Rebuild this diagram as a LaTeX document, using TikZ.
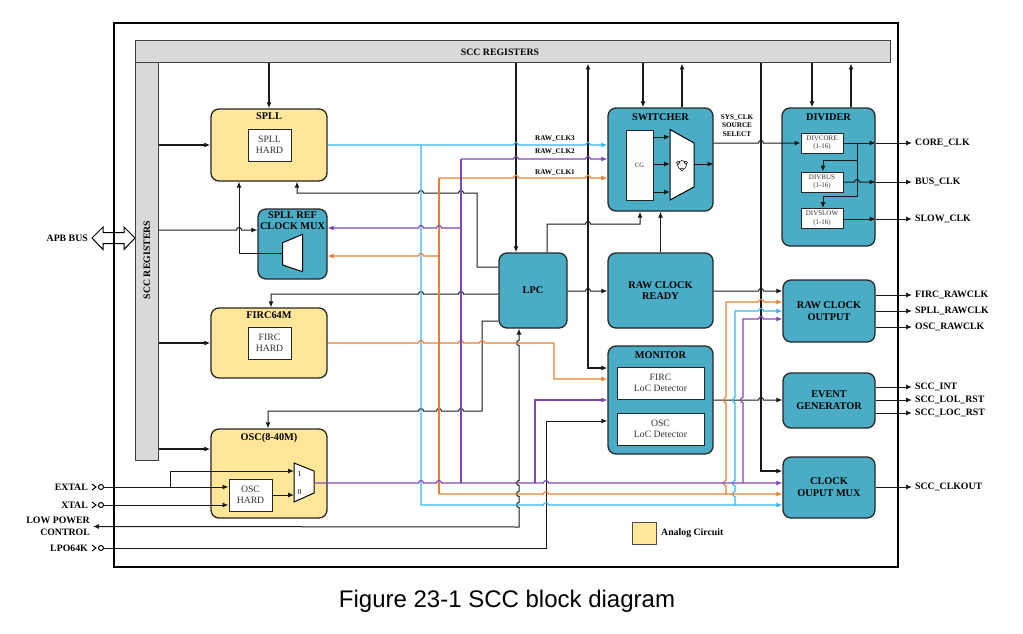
\documentclass[tikz,border=0pt]{standalone}
\usepackage{fontspec}
\setmainfont{Liberation Serif}
\newfontfamily\capfont{Liberation Sans}
\usetikzlibrary{arrows.meta}

\definecolor{tealblk}{HTML}{4BACC6}
\definecolor{analog}{HTML}{FFE699}
\definecolor{regfill}{HTML}{D9D9D9}
\definecolor{spllc}{HTML}{33B6EF}
\definecolor{oscc}{HTML}{7E46B7}
\definecolor{fircc}{HTML}{ED7D31}

\tikzset{
  box/.style 2 args={minimum width=#1pt, minimum height=#2pt, inner sep=0pt},
  blk/.style={draw=black!85, line width=1.3pt, rounded corners=8pt, fill=tealblk},
  blkt/.style={blk, font=\fontsize{10.3}{11.8}\selectfont\bfseries, align=center},
  ana/.style={blk, fill=analog},
  hard/.style={draw=black!85, line width=1pt, fill=white, text=black!80,
    font=\fontsize{9.7}{11.3}\selectfont, align=center},
  ttl/.style={anchor=north, inner sep=0pt, align=center,
    font=\fontsize{10.3}{10.8}\selectfont\bfseries},
  lbl/.style={inner sep=3pt, font=\fontsize{9.8}{12}\selectfont\bfseries},
  tiny/.style={inner sep=0pt, align=center, font=\fontsize{7.2}{8.4}\selectfont\bfseries},
  regbar/.style={draw=black!75, line width=1pt, fill=regfill},
  sig/.style={line width=1pt, draw=black!90},
  reg/.style={line width=1.4pt, draw=black!90},
  spl/.style={line width=1.15pt, draw=spllc},
  frc/.style={line width=1.15pt, draw=fircc},
  osl/.style={line width=1.15pt, draw=oscc},
  hr/.style 2 args={insert path={-- (#1-2.5,#2) arc[start angle=180,end angle=360,radius=2.5]}},
  hl/.style 2 args={insert path={-- (#1+2.5,#2) arc[start angle=0,end angle=-180,radius=2.5]}},
  hu/.style 2 args={insert path={-- (#1,#2+2.5) arc[start angle=90,end angle=270,radius=2.5]}}
}

\begin{document}
\begin{tikzpicture}[x=1pt, y=-1pt, >={Latex[length=6pt,width=5pt]}]
\useasboundingbox (0,0) rectangle (1023,634);

\draw[line width=1pt, fill=white] (92,238) -- (103,227) -- (103,232.5) -- (124,232.5) -- (124,227) -- (135,238)
  -- (124,249.5) -- (124,243.5) -- (103,243.5) -- (103,249.5) -- cycle;
\draw[line width=1.4pt] (114,23) rectangle (898,567);

\node[regbar, box={755}{22}] (regh) at (512.5,52) {};
\node[regbar, box={23}{397}] (regv) at (146.5,261.5) {};
\node[lbl, inner sep=0pt] (regh-t) at (500,52) {SCC REGISTERS};
\node[lbl, inner sep=0pt, rotate=90] (regv-t) at (147,260) {SCC REGISTERS};

\node[ana, box={116}{72}] (spll) at (269,145) {};
\node[ttl] (spll-t) at ([yshift=-4.5pt]spll.north) {SPLL};
\node[hard, box={43}{32}] (spll-h) at (269.5,145) {SPLL\\HARD};

\node[blk, box={69}{70}] (rmux) at (292.5,244) {};
\node[ttl] (rmux-t) at ([yshift=-3.5pt]rmux.north) {SPLL REF\\CLOCK MUX};
\draw[line width=1pt, fill=white] (282.7,242.7) -- (302.7,234.3) -- (302.7,271.7) -- (282.7,265) -- cycle;
\coordinate (rmux-o) at (282.7,253.3);

\node[ana, box={116}{70}] (firc) at (269,343) {};
\node[ttl] (firc-t) at ([yshift=-4pt]firc.north) {FIRC64M};
\node[hard, box={43}{32}] (firc-h) at (269.5,343) {FIRC\\HARD};

\node[ana, box={116}{89}] (osc) at (269,473.5) {};
\node[ttl] (osc-t) at ([yshift=-4.5pt]osc.north) {OSC(8-40M)};
\node[hard, box={43}{32}] (osc-h) at (250.5,495) {OSC\\HARD};
\draw[line width=1pt, fill=white] (294,463) -- (314,471) -- (314,493) -- (294,502) -- cycle;
\node[inner sep=0pt, font=\fontsize{7.5}{8}\selectfont] (osc-m1) at (299.5,474) {1};
\node[inner sep=0pt, font=\fontsize{7.5}{8}\selectfont] (osc-m0) at (299.5,492) {0};

\node[blkt, box={68}{75}] (lpc) at (533,290.5) {LPC};

\node[blk, box={105}{103}] (sw) at (660.5,159.5) {};
\node[ttl] (sw-t) at ([yshift=-6pt]sw.north) {SWITCHER};
\node[hard, box={27}{70}, font=\fontsize{6.5}{7}\selectfont] (cg) at (639.5,165) {CG};
\draw[line width=1pt, fill=white] (670,129.5) -- (694,143) -- (694,187) -- (670,200) -- cycle;
\draw[line width=0.5pt] (682,165) circle[radius=4.5];
\foreach \a in {90,210,330}
  \draw[line width=0.5pt, fill=white] (682,165) ++(\a:4.5) circle[radius=1.6];

\node[blkt, box={105}{75}] (rcr) at (660.5,290.5) {RAW CLOCK\\READY};

\node[blk, box={105}{108}] (mon) at (660.5,400) {};
\node[ttl] (mon-t) at ([yshift=-6pt]mon.north) {MONITOR};
\node[hard, box={87}{32}] (mon-f) at (660.5,383) {FIRC\\LoC Detector};
\node[hard, box={87}{32}] (mon-o) at (660.5,429) {OSC\\LoC Detector};

\node[blk, box={93}{138}] (div) at (828.5,177) {};
\node[ttl] (div-t) at ([yshift=-6pt]div.north) {DIVIDER};
\node[hard, box={42}{20}, font=\fontsize{7}{8.7}\selectfont] (dcore) at (822,143) {DIVCORE\\(1-16)};
\node[hard, box={42}{20}, font=\fontsize{7}{8.7}\selectfont] (dbus) at (822,182) {DIVBUS\\(1-16)};
\node[hard, box={42}{20}, font=\fontsize{7}{8.7}\selectfont] (dslow) at (822,218.5) {DIVSLOW\\(1-16)};

\node[blkt, box={92}{62}] (rco) at (829,311) {RAW CLOCK\\OUTPUT};
\node[blkt, box={92}{55}] (evg) at (829,400.5) {EVENT\\GENERATOR};
\node[blkt, box={92}{61}] (com) at (829,487.5) {CLOCK\\OUPUT MUX};

\node[draw=black!70, line width=0.8pt, fill=analog, box={24}{22}] (leg) at (644,533) {};
\node[lbl, anchor=west] (leg-t) at (658,533) {Analog Circuit};

\node[tiny] (clk3) at (555,139) {RAW\_CLK3};
\node[tiny] (clk2) at (555,152) {RAW\_CLK2};
\node[tiny] (clk1) at (555,172.5) {RAW\_CLK1};
\node[tiny] (sel) at (737,125.5) {SYS\_CLK\\SOURCE\\SELECT};

\node[lbl, anchor=east] (apb) at (91,238) {APB BUS};
\node[lbl, anchor=east] (extal-t) at (91,487) {EXTAL};
\node[lbl, anchor=east] (xtal-t) at (91,505) {XTAL};
\node[lbl, anchor=east, align=right] (lpctl) at (93,526.5) {LOW POWER\\CONTROL};
\node[lbl, anchor=east] (lpo-t) at (91,548) {LPO64K};

\foreach \n/\y in {extal/487, xtal/505, lpo/548} {
  \draw[line width=1pt] (92,\y-3) -- (96,\y) -- (92,\y+3);
  \draw[line width=1pt, fill=white] (101,\y) circle[radius=2.5];
  \coordinate (\n) at (103.5,\y);
}

\draw[reg,->] (269,0 |- regh.south) -- (spll.north);
\draw[reg,->] (regv.east |- spll) -- (spll);
\draw[reg,->] (regv.east |- firc) -- (firc);
\draw[reg,->] (regv.east |- 0,449) -- (osc.west |- 0,449);
\draw[sig,->] (regv.east |- 0,230) [hr={239}{230}] -- (rmux.west |- 0,230);
\draw[sig,->] (rmux-o) -- (239,253.3) -- (239,0 |- spll.south);
\draw[sig,->] (lpc.west |- 0,267) -- (477,267) -- (477,193) [hl={461}{193}] [hl={421}{193}] -- (297,193) -- (297,0 |- spll.south);
\draw[sig,->] (lpc.west |- 0,294) [hl={461}{294}] [hl={421}{294}] -- (271,294) -- (271,0 |- firc.north);
\draw[sig,->] (lpc.west |- 0,321) -- (482,321) -- (482,411) [hl={461}{411}] [hl={439}{411}] [hl={421}{411}] -- (268,411) -- (268,0 |- osc.north);

\draw[sig,->] (extal) -- (osc-h.west |- extal);
\draw[sig,->] (170,487) -- (170,471) -- (294,471);
\draw[sig,->] (xtal) -- (osc-h.west |- xtal);
\draw[sig,->] (osc-h.east |- 0,495) -- (294,495);
\draw[sig,<->] (lpctl.east) -- (519,527) [hu={519}{505}] [hu={519}{494}] [hu={519}{483}] [hu={519}{343}] -- (519,0 |- lpc.south);
\draw[sig,->] (lpo) -- (546,548) -- (546,421) -- (mon.west |- 0,421);

\draw[reg,->] (516,0 |- regh.south) -- (516,0 |- lpc.north);
\draw[sig,->] (547,0 |- lpc.north) -- (547,224) [hr={588}{224}] -- (640,224) -- (640,0 |- sw.south);
\draw[reg,<->] (588,0 |- regh.south) -- (588,368) -- (mon.west |- 0,368);
\draw[sig,->] (lpc.east |- 0,291) [hr={588}{291}] -- (rcr.west |- 0,291);
\draw[sig,->] (rcr.north) -- (sw.south);
\draw[reg,->] (643,0 |- regh.south) -- (643,0 |- sw.north);
\draw[reg,<-] (682,0 |- regh.south) -- (682,0 |- sw.north);
\foreach \y in {137,164,192}
  \draw[sig,->] (cg.east |- 0,\y) -- (670,\y);
\draw[sig,->] (694,164) -- (sw.east |- 0,164);
\draw[sig,->] (sw.east |- 0,143) [hr={761}{143}] -- (dcore.west);

\draw[reg,->] (812,0 |- regh.south) -- (812,0 |- div.north);
\draw[reg,<-] (851,0 |- regh.south) -- (851,0 |- div.north);
\draw[sig,->] (dcore.east) -- (div.east |- dcore);
\draw[sig] (857,143) -- (857,196.5);
\draw[sig,->] (857,160) -- (823,160) -- (823,0 |- dbus.north);
\draw[sig,->] (857,196.5) -- (823,196.5) -- (823,0 |- dslow.north);
\draw[sig,->] (dbus.east) [hr={857}{182}] -- (div.east |- dbus);
\draw[sig,->] (dslow.east |- 0,219) -- (div.east |- 0,219);
\foreach \y/\lab [count=\k] in {143/CORE\_CLK, 182/BUS\_CLK, 219/SLOW\_CLK} {
  \node[lbl, anchor=west] (dv-\k) at (912,\y) {\lab};
  \draw[sig,->] (div.east |- dv-\k) -- (dv-\k);
}

\draw[reg,->] (761,0 |- regh.south) -- (761,471) -- (com.west |- 0,471);
\draw[sig,->] (rcr.east |- 0,291) [hr={761}{291}] -- (rco.west |- 0,291);
\draw[sig,->] (mon.east |- 0,400) [hr={761}{400}] -- (evg.west |- 0,400);
\foreach \y/\lab [count=\k] in {295/FIRC\_RAWCLK, 311/SPLL\_RAWCLK, 327/OSC\_RAWCLK} {
  \node[lbl, anchor=west] (ro-\k) at (912,\y) {\lab};
  \draw[sig,->] (rco.east |- ro-\k) -- (ro-\k);
}
\foreach \y/\lab [count=\k] in {387/SCC\_INT, 400/SCC\_LOL\_RST, 413/SCC\_LOC\_RST} {
  \node[lbl, anchor=west] (ev-\k) at (912,\y) {\lab};
  \draw[sig,->] (evg.east |- ev-\k) -- (ev-\k);
}
\node[lbl, anchor=west] (cm-1) at (912,487) {SCC\_CLKOUT};
\draw[sig,->] (com.east |- cm-1) -- (cm-1);

\draw[spl,->] (spll.east) [hr={516}{145}] [hr={588}{145}] -- (sw.west |- 0,145);
\draw[spl,->] (421,145) -- (421,505) [hr={546}{505}] -- (com.west |- 0,505);
\draw[spl,->] (735,505) [hu={735}{494}] [hu={735}{483}] [hu={735}{400}] -- (735,311) [hr={761}{311}] -- (rco.west |- 0,311);

\draw[frc,->] (firc.east) [hr={421}{343}] [hr={461}{343}] [hr={482}{343}] -- (554,343) -- (554,379) -- (mon.west |- 0,379);
\draw[frc] (439,178) -- (439,494);
\draw[frc,->] (439,178) [hr={516}{178}] [hr={588}{178}] -- (sw.west |- 0,178);
\draw[frc,->] (439,256) [hl={421}{256}] -- (rmux.east |- 0,256);
\draw[frc,->] (439,494) [hr={546}{494}] -- (com.west |- 0,494);
\draw[frc,->] (726,494) [hu={726}{483}] [hu={726}{400}] -- (726,302) [hr={761}{302}] -- (rco.west |- 0,302);

\draw[osl,->] (314,483) [hr={421}{483}] [hr={439}{483}] [hr={546}{483}] -- (com.west |- 0,483);
\draw[osl] (461,483) -- (461,159);
\draw[osl,->] (461,159) [hr={516}{159}] [hr={588}{159}] -- (sw.west |- 0,159);
\draw[osl,->] (461,228) [hl={439}{228}] [hl={421}{228}] -- (rmux.east |- 0,228);
\draw[osl,->] (535,483) -- (535,400) -- (mon.west |- 0,400);
\draw[osl,->] (743,483) [hu={743}{400}] -- (743,319) [hr={761}{319}] -- (rco.west |- 0,319);

\node[font=\capfont\fontsize{24}{28}\selectfont] (cap) at (507,601) {Figure 23-1 SCC block diagram};
\end{tikzpicture}
\end{document}
